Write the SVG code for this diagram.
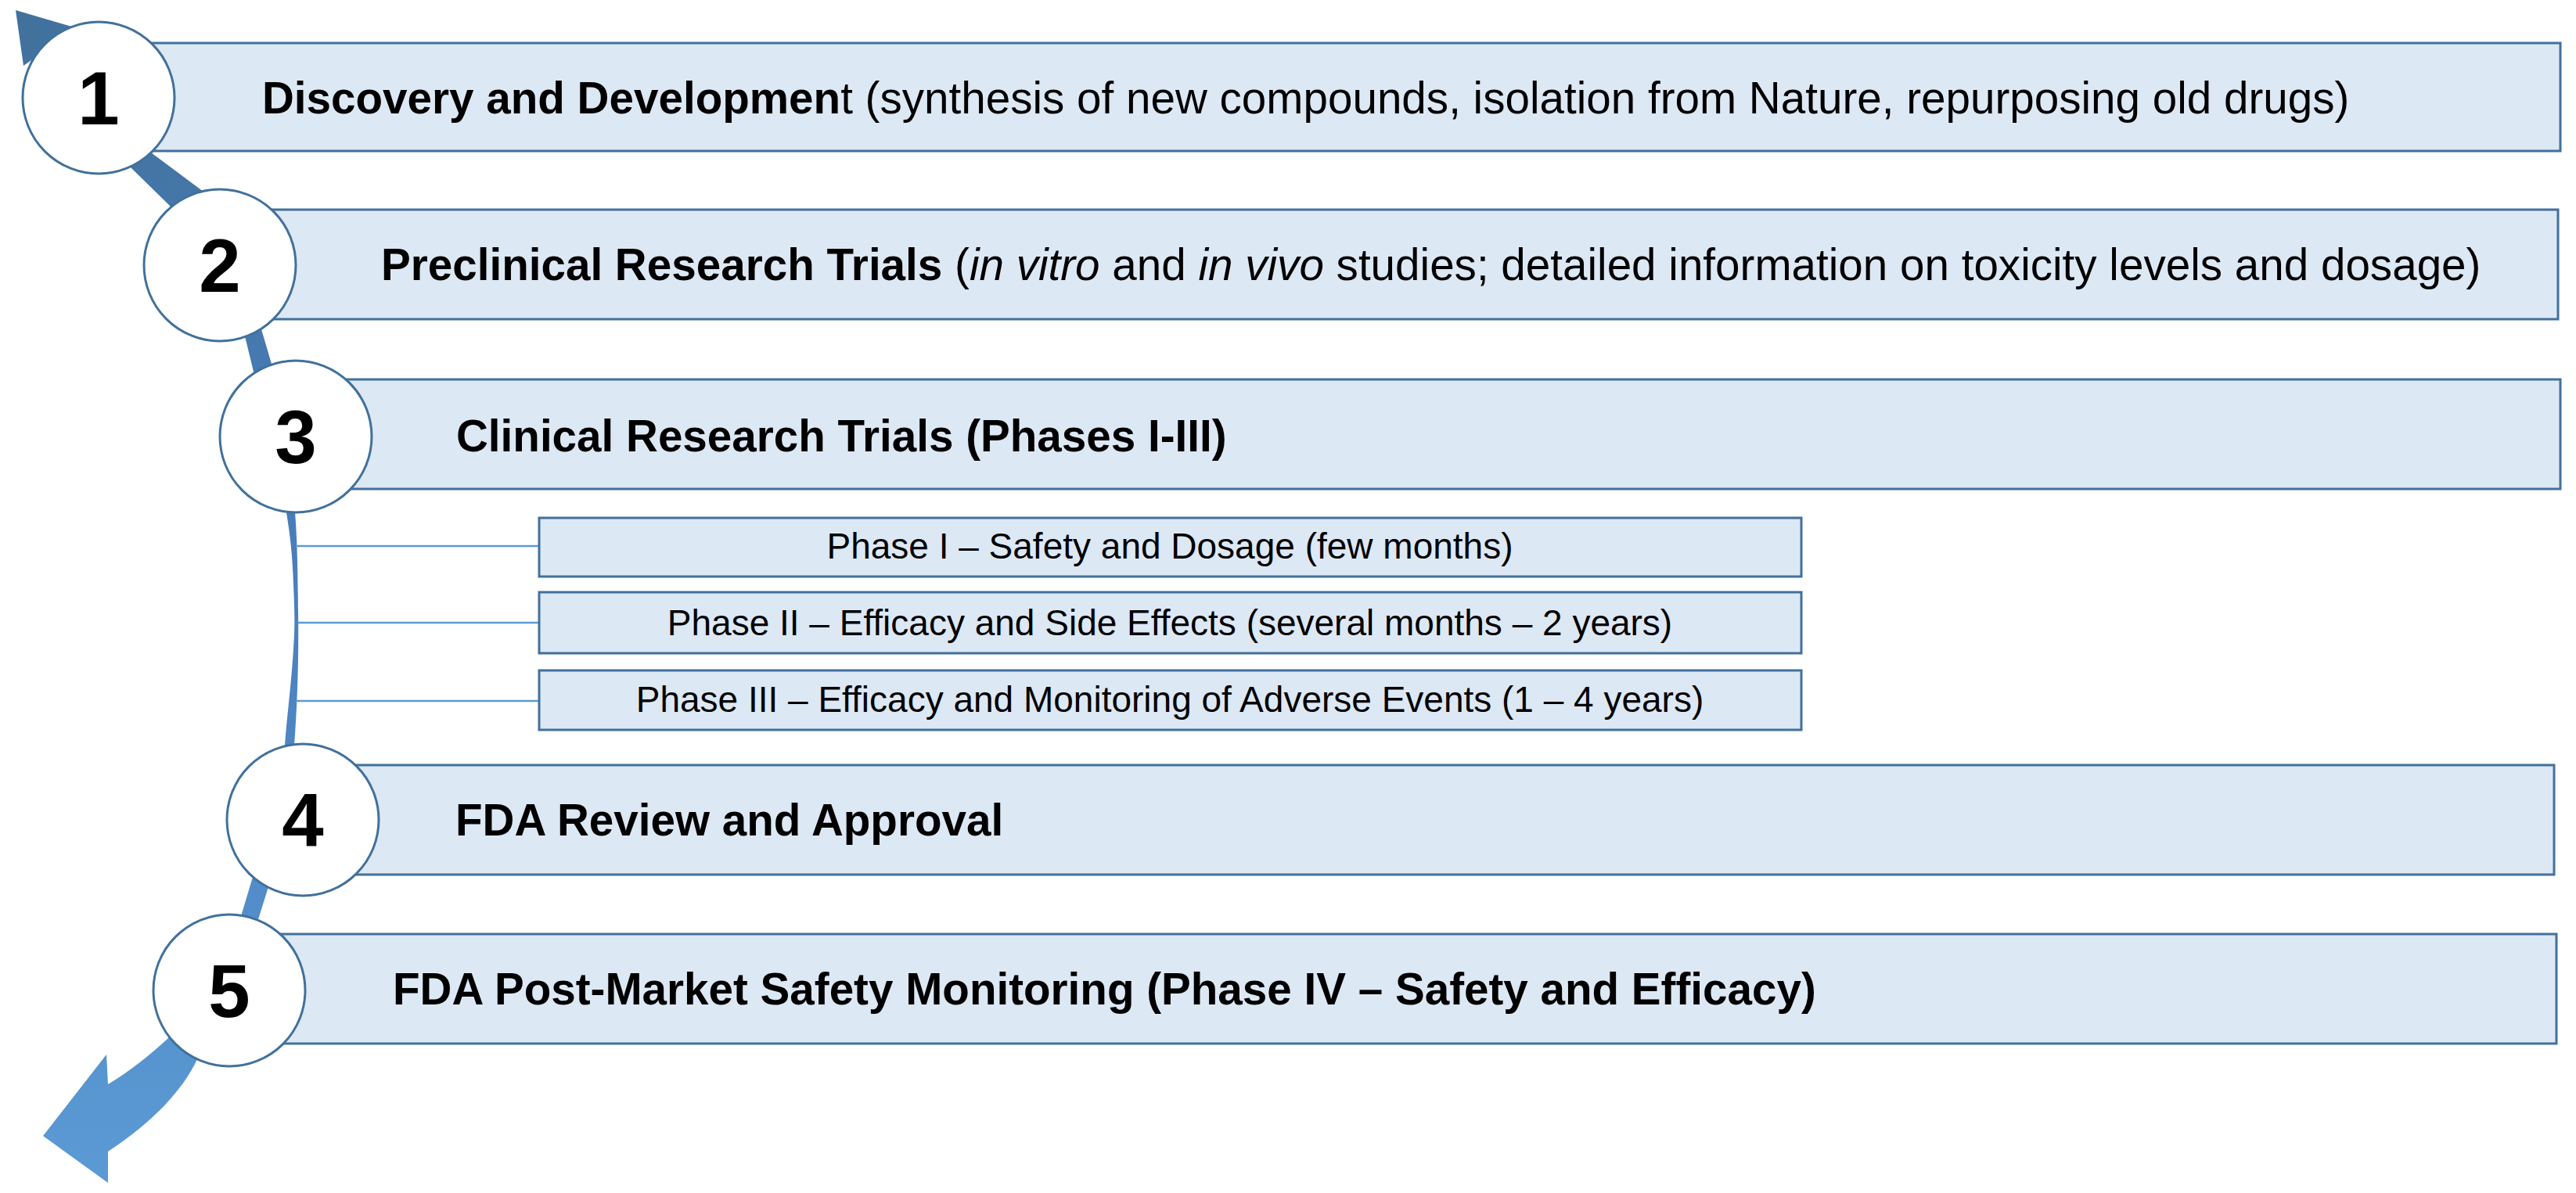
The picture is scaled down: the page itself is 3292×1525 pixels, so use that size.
<svg xmlns="http://www.w3.org/2000/svg" width="3292" height="1525" viewBox="0 0 3292 1525">
  <defs>
    <linearGradient id="arrowGrad" gradientUnits="userSpaceOnUse" x1="0" y1="0" x2="0" y2="1525">
      <stop offset="0" stop-color="#41719c"/>
      <stop offset="0.5" stop-color="#4a7fbd"/>
      <stop offset="1" stop-color="#5b9bd5"/>
    </linearGradient>
  </defs>
  <style>
    .box { fill: #dde8f5; stroke: #41719c; stroke-width: 3; }
    .phase { fill: #dde8f5; stroke: #41719c; stroke-width: 3; }
    .circ { fill: #ffffff; stroke: #41719c; stroke-width: 3; }
    .num { font-family: "Liberation Sans", Arial, sans-serif; font-weight: bold; font-size: 96px; fill: #000; text-anchor: middle; }
    .lbl { font-family: "Liberation Sans", Arial, sans-serif; font-size: 56.6px; fill: #000; }
    .b { font-weight: bold; }
    .i { font-style: italic; }
    .ptxt { font-family: "Liberation Sans", Arial, sans-serif; font-size: 46px; fill: #000; text-anchor: middle; }
    .conn { stroke: #5b9bd5; stroke-width: 2.5; fill: none; }
    .arrow { fill: url(#arrowGrad); stroke: none; }
  </style>
  <rect width="3292" height="1525" fill="#ffffff"/>

  <g id="flow-arrow">
    <path class="arrow" d="M377,812 C376,770 375,730 372,700 C370,680 368,668 366,655 L324,475 L313,430 L217,263 L168,215 L50,70 L30,84 L20,13 L95,35 L78,50 L193,195 L260,245 L334,421 L347,465 L377,655 C380,690 381,740 381,812 Z"/>
    <path class="arrow" d="M381,778 C382,840 380,900 376,953 L342,1137 L331,1172 L253,1352 C235,1392 195,1435 138,1472 L138,1512 L55,1452 L136,1348 L138,1386 C168,1368 192,1348 214,1328 L308,1171 L323,1121 L364,953 C368,900 376,850 377,778 Z"/>
  </g>

  <g id="node-1">
    <rect class="box" x="126" y="55" width="3146" height="138"/>
    <text class="lbl" x="335" y="145"><tspan class="b">Discovery and Developmen</tspan>t (synthesis of new compounds, isolation from Nature, repurposing old drugs)</text>
  </g>
  <g id="node-2">
    <rect class="box" x="281" y="268" width="2988" height="140"/>
    <text class="lbl" x="487" y="358"><tspan class="b">Preclinical Research Trials</tspan> (<tspan class="i">in vitro</tspan> and <tspan class="i">in vivo</tspan> studies; detailed information on toxicity levels and dosage)</text>
  </g>
  <g id="node-3">
    <rect class="box" x="378" y="485" width="2894" height="140"/>
    <text class="lbl b" x="583" y="577">Clinical Research Trials (Phases I-III)</text>
  </g>
  <g id="node-4">
    <rect class="box" x="387" y="978" width="2877" height="140"/>
    <text class="lbl b" x="582" y="1068">FDA Review and Approval</text>
  </g>
  <g id="node-5">
    <rect class="box" x="293" y="1194" width="2974" height="140"/>
    <text class="lbl b" x="502" y="1284">FDA Post-Market Safety Monitoring (Phase IV – Safety and Efficacy)</text>
  </g>

  <g id="connectors">
    <line class="conn" x1="378" y1="698" x2="689" y2="698"/>
    <line class="conn" x1="380" y1="796" x2="689" y2="796"/>
    <line class="conn" x1="378" y1="896" x2="689" y2="896"/>
  </g>

  <g id="phase-1">
    <rect class="phase" x="689" y="662" width="1613" height="75"/>
    <text class="ptxt" x="1495" y="714">Phase I – Safety and Dosage (few months)</text>
  </g>
  <g id="phase-2">
    <rect class="phase" x="689" y="757" width="1613" height="78"/>
    <text class="ptxt" x="1495" y="812">Phase II – Efficacy and Side Effects (several months – 2 years)</text>
  </g>
  <g id="phase-3">
    <rect class="phase" x="689" y="857" width="1613" height="76"/>
    <text class="ptxt" x="1495" y="910">Phase III – Efficacy and Monitoring of Adverse Events (1 – 4 years)</text>
  </g>

  <g id="step-1">
    <circle class="circ" cx="126" cy="125" r="97"/>
    <text class="num" x="126" y="159">1</text>
  </g>
  <g id="step-2">
    <circle class="circ" cx="281" cy="339" r="97"/>
    <text class="num" x="281" y="373">2</text>
  </g>
  <g id="step-3">
    <circle class="circ" cx="378" cy="558" r="97"/>
    <text class="num" x="378" y="592">3</text>
  </g>
  <g id="step-4">
    <circle class="circ" cx="387" cy="1048" r="97"/>
    <text class="num" x="387" y="1082">4</text>
  </g>
  <g id="step-5">
    <circle class="circ" cx="293" cy="1266" r="97"/>
    <text class="num" x="293" y="1300">5</text>
  </g>
</svg>
